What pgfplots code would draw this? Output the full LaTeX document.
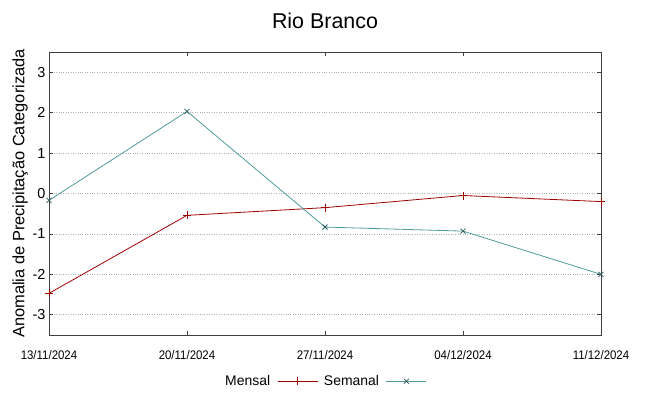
\documentclass[border=0pt]{standalone}
\usepackage{fontspec}
\setmainfont{Liberation Sans}
\usepackage{graphicx}
\usepackage{pgfplots}
\pgfplotsset{compat=1.18}
\definecolor{mensal}{RGB}{160,0,0}
\definecolor{semanal}{RGB}{80,155,155}
\definecolor{axgray}{RGB}{64,64,64}
\newcommand{\dl}[1]{\scalebox{0.92}[1]{#1}}
\begin{document}
\begin{tikzpicture}
\path[use as bounding box] (-49bp,-61bp) rectangle (600bp,335bp);
\begin{axis}[
  scale only axis,
  width=552bp, height=283bp,
  at={(0,0)}, anchor=south west,
  xmin=0, xmax=4, ymin=-3.5, ymax=3.5,
  xtick={0,1,2,3,4},
  xticklabels={\dl{13/11/2024},\dl{20/11/2024},\dl{27/11/2024},\dl{04/12/2024},\dl{11/12/2024}},
  ytick={-3,-2,-1,0,1,2,3},
  tick align=inside,
  tick pos=both,
  major tick length=4bp,
  tick style={axgray, line width=0.8pt},
  axis line style={axgray, line width=1pt},
  ymajorgrids,
  grid style={gray!60, dotted, line width=0.8pt},
  ticklabel style={font=\fontsize{14.5}{16}\selectfont},
  xticklabel style={font=\fontsize{12.5}{14}\selectfont, yshift=-12bp},
  /pgf/number format/assume math mode=true,
  ylabel={Anomalia de Precipitação Categorizada},
  ylabel style={font=\fontsize{16.5}{18}\selectfont, yshift=-2bp},
  title={Rio Branco},
  title style={font=\fontsize{21.5}{24}\selectfont, yshift=14bp},
  legend columns=2,
  legend plot pos=right,
  legend style={draw=none, fill=none, at={(0.5,-0.128)}, anchor=north,
    font=\fontsize{14}{16}\selectfont,
    /tikz/every odd column/.append style={column sep=5bp},
    /tikz/every even column/.append style={column sep=4bp}},
  legend image code/.code={
    \draw[mark repeat=2,mark phase=2] plot coordinates {(0bp,0bp) (20bp,0bp) (40bp,0bp)};},
]
\addplot[mensal, line width=0.8pt, mark=+, mark size=4bp, mark options={mensal}] coordinates {
(0,-2.47) (1,-0.54) (2,-0.35) (3,-0.05) (4,-0.20)};
\addlegendentry{Mensal}
\addplot[semanal, line width=0.8pt, mark=x, mark size=3.5bp, mark options={semanal!60!black}] coordinates {
(0,-0.17) (1,2.03) (2,-0.83) (3,-0.93) (4,-2.00)};
\addlegendentry{Semanal}
\end{axis}
\end{tikzpicture}
\end{document}
